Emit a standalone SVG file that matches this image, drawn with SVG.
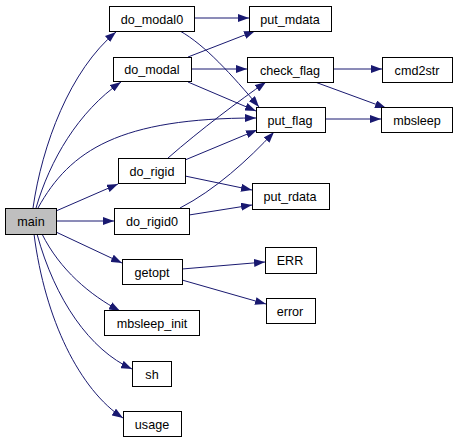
<svg xmlns="http://www.w3.org/2000/svg" width="459" height="443" viewBox="0 0 459 443">
<style>
.n rect{fill:#fff;stroke:#000;stroke-width:1}
.n text{font-family:"Liberation Sans",Arial,sans-serif;font-size:12.6px;text-anchor:middle;fill:#000}
#main rect{fill:#bfbfbf}
.e path{fill:none;stroke:#191970;stroke-width:1;marker-end:url(#a)}
</style>
<defs>
<marker id="a" markerUnits="userSpaceOnUse" markerWidth="11" markerHeight="8" refX="11" refY="4" orient="auto" viewBox="0 0 11 8">
<path d="M0,0 L11,4 L0,8 z" fill="#191970"/>
</marker>
</defs>
<rect width="459" height="443" fill="#fff"/>
<g class="e" id="edges">
<path d="M33,208 C42,145 70,70 116,32"/>
<path d="M36,208 C50,160 78,112 121,82"/>
<path d="M38,208 C70,150 120,118 256,118"/>
<path d="M56,211 L118,184"/>
<path d="M56,221 L114,221"/>
<path d="M56,232 L122,263"/>
<path d="M42,234 C60,270 90,295 120,311"/>
<path d="M37,234 C55,300 90,350 132,369"/>
<path d="M34,234 C45,320 80,390 123,418"/>
<path d="M194,18 L249,18"/>
<path d="M180,31 C205,45 232,75 259,107"/>
<path d="M188,57 L255,31"/>
<path d="M191,69 L247,69"/>
<path d="M188,82 L256,111"/>
<path d="M168,158 C200,130 240,100 266,82"/>
<path d="M185,160 L257,130"/>
<path d="M185,176 L252,190"/>
<path d="M180,208 C215,190 248,160 274,132"/>
<path d="M189,215 L252,205"/>
<path d="M333,69 L382,69"/>
<path d="M315,82 L386,108"/>
<path d="M325,119 L381,119"/>
<path d="M182,269 L265,262"/>
<path d="M182,280 L266,304"/>
</g>
<g class="n" id="main"><rect x="5.5" y="208.5" width="51" height="26"/><text x="31" y="226">main</text></g>
<g class="n" id="do_modal0"><rect x="109.5" y="6.5" width="85" height="25"/><text x="152" y="23.5">do_modal0</text></g>
<g class="n" id="do_modal"><rect x="113.5" y="57.5" width="78" height="24"/><text x="152" y="74">do_modal</text></g>
<g class="n" id="do_rigid"><rect x="118.5" y="158.5" width="67" height="25"/><text x="152" y="175.5">do_rigid</text></g>
<g class="n" id="do_rigid0"><rect x="114.5" y="208.5" width="75" height="26"/><text x="152" y="226">do_rigid0</text></g>
<g class="n" id="getopt"><rect x="122.5" y="259.5" width="60" height="25"/><text x="152" y="276.5">getopt</text></g>
<g class="n" id="mbsleep_init"><rect x="104.5" y="310.5" width="95" height="25"/><text x="152" y="327.5">mbsleep_init</text></g>
<g class="n" id="sh"><rect x="132.5" y="361.5" width="39" height="25"/><text x="152" y="378.5">sh</text></g>
<g class="n" id="usage"><rect x="123.5" y="411.5" width="58" height="25"/><text x="152" y="428.5">usage</text></g>
<g class="n" id="put_mdata"><rect x="249.5" y="6.5" width="82" height="25"/><text x="290" y="23.5">put_mdata</text></g>
<g class="n" id="check_flag"><rect x="247.5" y="57.5" width="86" height="25"/><text x="290" y="74.5">check_flag</text></g>
<g class="n" id="put_flag"><rect x="256.5" y="107.5" width="69" height="25"/><text x="290" y="124.5">put_flag</text></g>
<g class="n" id="put_rdata"><rect x="252.5" y="183.5" width="77" height="26"/><text x="290" y="201">put_rdata</text></g>
<g class="n" id="ERR"><rect x="265.5" y="247.5" width="51" height="26"/><text x="290" y="265">ERR</text></g>
<g class="n" id="error"><rect x="266.5" y="298.5" width="49" height="25"/><text x="290" y="315.5">error</text></g>
<g class="n" id="cmd2str"><rect x="382.5" y="57.5" width="70" height="25"/><text x="417" y="74.5">cmd2str</text></g>
<g class="n" id="mbsleep"><rect x="381.5" y="107.5" width="71" height="25"/><text x="417" y="124.5">mbsleep</text></g>
</svg>
